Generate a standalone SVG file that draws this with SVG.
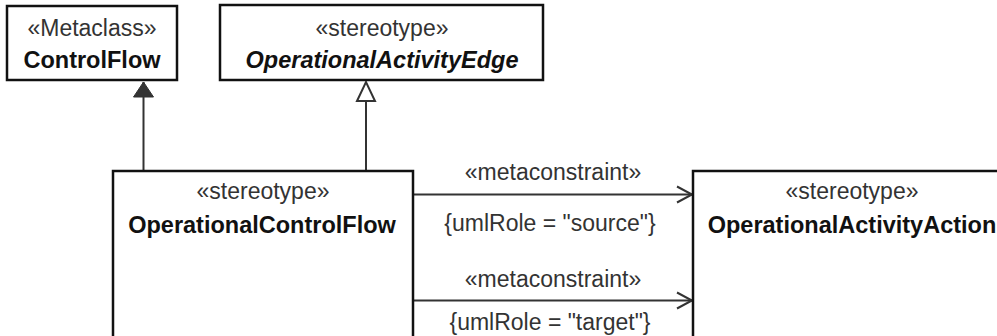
<svg xmlns="http://www.w3.org/2000/svg" width="997" height="336" viewBox="0 0 997 336">
<style>
.box{fill:#fff;stroke:#111;stroke-width:2.5}
.st{font-family:"Liberation Sans",Arial,sans-serif;font-size:23px;fill:#333;text-anchor:middle}
.nm{font-family:"Liberation Sans",Arial,sans-serif;font-size:23.5px;font-weight:bold;fill:#111;text-anchor:middle}
.it{font-style:italic}
.ln{fill:none;stroke:#333;stroke-width:2}
</style>
<defs>
<marker id="filled" markerWidth="22" markerHeight="22" viewBox="0 0 22 22" refX="16" refY="11" orient="auto" markerUnits="userSpaceOnUse">
<path d="M1,1 L16,11 L1,21 Z" fill="#333" stroke="#333" stroke-width="1"/>
</marker>
<marker id="hollow" markerWidth="24" markerHeight="22" viewBox="0 0 24 22" refX="20" refY="11" orient="auto" markerUnits="userSpaceOnUse">
<path d="M1,2 L20,11 L1,20 Z" fill="#fff" stroke="#333" stroke-width="2"/>
</marker>
<marker id="open" markerWidth="20" markerHeight="20" viewBox="0 0 20 20" refX="17" refY="10" orient="auto" markerUnits="userSpaceOnUse">
<path d="M2,2 L17,10 L2,18" fill="none" stroke="#333" stroke-width="2"/>
</marker>
</defs>
<rect width="997" height="336" fill="#fff"/>
<g id="connectors">
<line class="ln" x1="143.5" y1="171" x2="143.5" y2="82" marker-end="url(#filled)"/>
<line class="ln" x1="366" y1="171" x2="366" y2="82" marker-end="url(#hollow)"/>
<line class="ln" x1="413" y1="194.5" x2="692" y2="194.5" marker-end="url(#open)"/>
<text class="st" x="553" y="180">«metaconstraint»</text>
<text class="st" x="550" y="231">{umlRole = "source"}</text>
<line class="ln" x1="413" y1="300.5" x2="692" y2="300.5" marker-end="url(#open)"/>
<text class="st" x="553" y="287">«metaconstraint»</text>
<text class="st" x="550" y="330">{umlRole = "target"}</text>
</g>
<g id="ControlFlow">
<rect class="box" x="7" y="6" width="170" height="74"/>
<text class="st" x="92" y="36">«Metaclass»</text>
<text class="nm" x="92" y="68">ControlFlow</text>
</g>
<g id="OperationalActivityEdge">
<rect class="box" x="220" y="5" width="323" height="75"/>
<text class="st" x="382" y="36">«stereotype»</text>
<text class="nm it" x="382" y="68">OperationalActivityEdge</text>
</g>
<g id="OperationalControlFlow">
<rect class="box" x="113" y="171" width="300" height="180"/>
<text class="st" x="263" y="199">«stereotype»</text>
<text class="nm" x="262" y="233">OperationalControlFlow</text>
</g>
<g id="OperationalActivityAction">
<rect class="box" x="693" y="171" width="330" height="180"/>
<text class="st" x="852" y="199">«stereotype»</text>
<text class="nm" x="852" y="233">OperationalActivityAction</text>
</g>
</svg>
